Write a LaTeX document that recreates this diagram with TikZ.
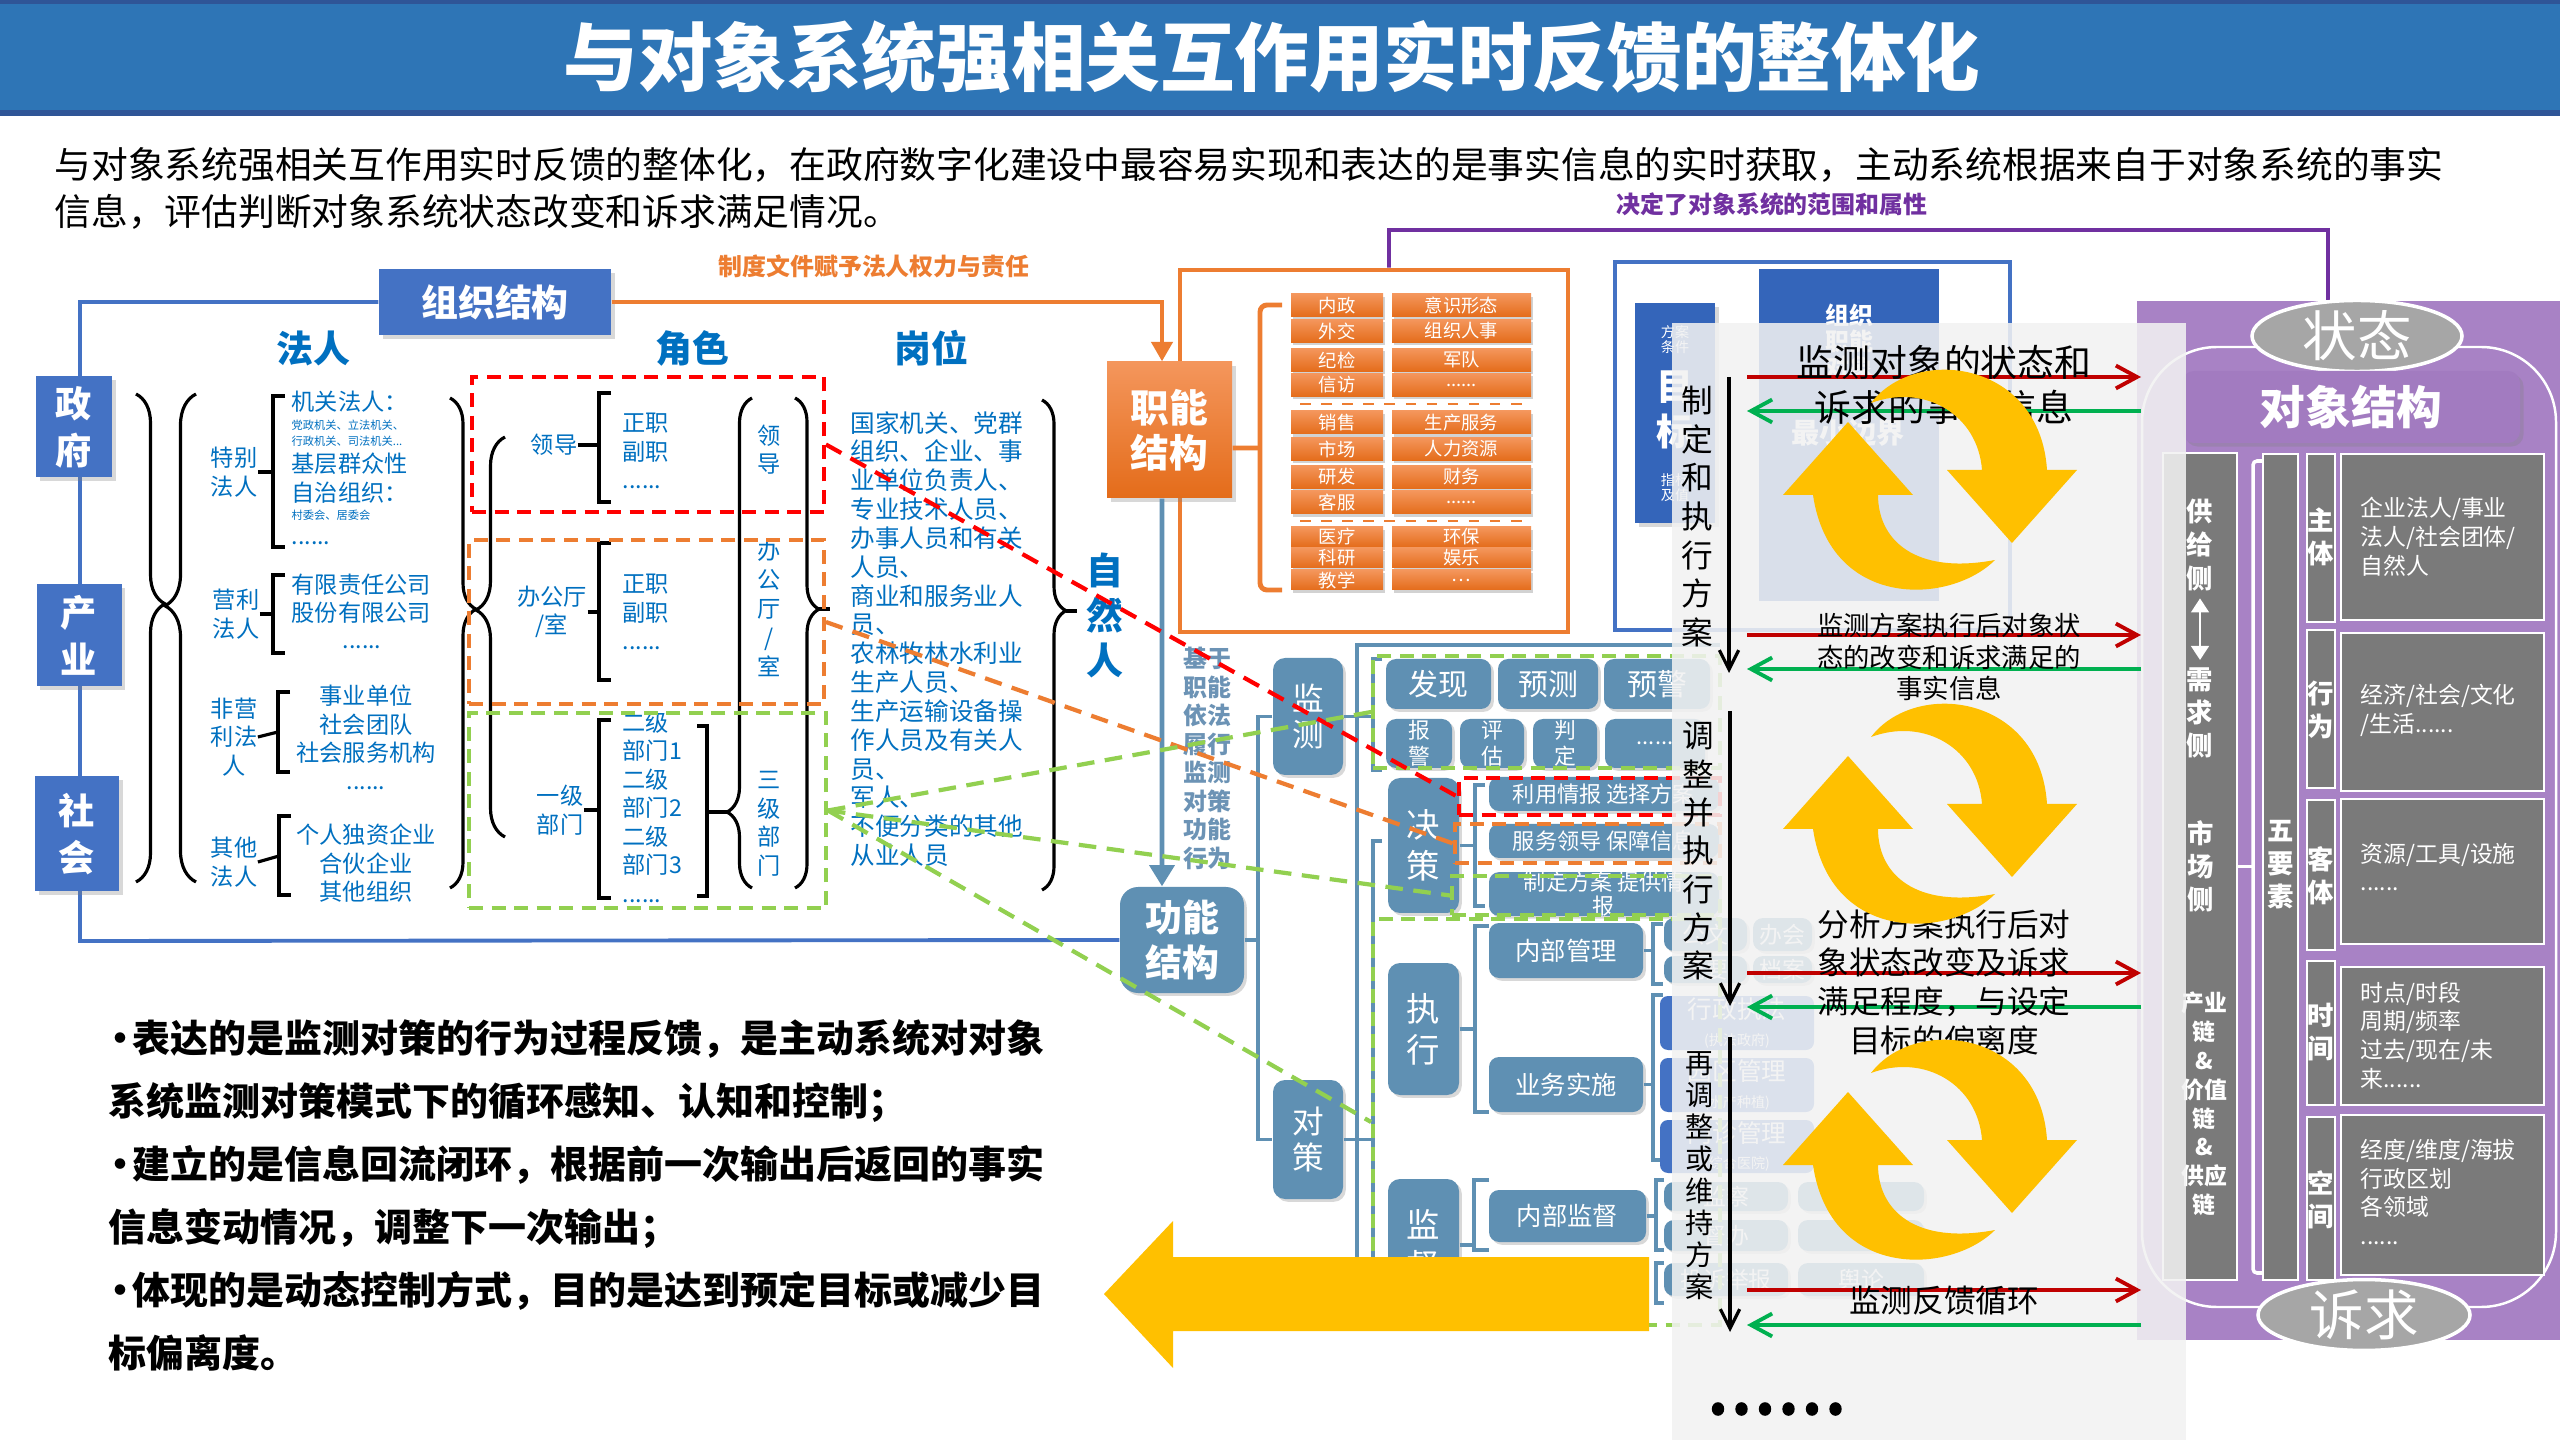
\documentclass[tikz,border=0pt]{standalone}
\usepackage{fontspec}
\setmainfont{Noto Sans CJK SC}
\usetikzlibrary{arrows.meta,decorations.pathreplacing,shadows,shapes.geometric}
\XeTeXlinebreaklocale "zh"

\definecolor{titleBlue}{RGB}{46,117,182}
\definecolor{titleEdge}{RGB}{47,85,151}
\definecolor{orgBlue}{RGB}{68,114,196}
\definecolor{deepBlue}{RGB}{52,101,186}
\definecolor{textBlue}{RGB}{0,112,192}
\definecolor{steelBlue}{RGB}{95,144,179}
\definecolor{steelText}{RGB}{108,147,181}
\definecolor{dutyOrange}{RGB}{237,125,49}
\definecolor{dutyLight}{RGB}{244,150,92}
\definecolor{dutyDark}{RGB}{228,108,26}
\definecolor{dashRed}{RGB}{255,0,0}
\definecolor{dashGreen}{RGB}{146,208,80}
\definecolor{linePurple}{RGB}{112,48,160}
\definecolor{objPurple}{RGB}{168,130,197}
\definecolor{objHead}{RGB}{162,123,192}
\definecolor{objGray}{RGB}{122,122,122}
\definecolor{ovalGray}{RGB}{166,166,166}
\definecolor{fbRed}{RGB}{192,0,0}
\definecolor{fbGreen}{RGB}{0,176,80}
\definecolor{loopYellow}{RGB}{255,192,0}
\definecolor{veilGray}{RGB}{242,242,242}

\newcommand{\fsz}[2]{\fontsize{#1}{#2}\selectfont}
\newcommand{\sixdots}{......}
\newcommand{\bulletMark}{\makebox[0.24cm][c]{•}}

\begin{document}
\begin{tikzpicture}[x=0.01cm, y=-0.01cm,
        sized/.style 2 args={minimum width=#1*0.01cm, minimum height=#2*0.01cm},
        orgBox/.style={rectangle, fill=orgBlue, text=white, inner sep=0pt, align=center, font=\fsz{10.3pt}{13.4pt}\bfseries, drop shadow={opacity=0.3, shadow xshift=1pt, shadow yshift=-1pt}},
        headText/.style={inner sep=0pt, text=textBlue, font=\fsz{10.5pt}{12pt}\bfseries},
        blueText/.style={inner sep=0pt, text=textBlue, align=center, font=\fsz{6.6pt}{8.1pt}},
        blueLeft/.style={blueText, align=left, anchor=west},
        tinyText/.style={inner sep=0pt, text=textBlue, align=left, anchor=west, font=\fsz{3.2pt}{4.6pt}},
        blackLine/.style={line width=0.9pt, black},
        dashFrame/.style={draw, line width=1.1pt, dash pattern=on 4pt off 2.4pt, inner sep=0pt},
        dashLink/.style={line width=1.2pt, dash pattern=on 5pt off 3pt},
        dutyItem/.style={rectangle, inner sep=0pt, top color=dutyLight, bottom color=dutyDark, text=white, font=\fsz{5.2pt}{6pt}, drop shadow={opacity=0.35, shadow xshift=0.6pt, shadow yshift=-0.8pt}},
        steelBox/.style={rectangle, rounded corners=0.1cm, fill=steelBlue, text=white, inner sep=0pt, align=center, drop shadow={opacity=0.3, shadow xshift=0.8pt, shadow yshift=-0.8pt}},
        steelLine/.style={line width=1pt, steelBlue},
        bizBox/.style={rectangle, rounded corners=0.08cm, fill=orgBlue, text=white, inner sep=0pt, align=center, font=\fsz{7pt}{7.5pt}, sized={154}{54}},
        grayBox/.style={rectangle, fill=objGray, draw=white, line width=0.5pt, inner sep=0pt},
        colText/.style={inner sep=0pt, align=center, text=white, font=\fsz{7.5pt}{9.4pt}\bfseries},
        elemText/.style={inner sep=0pt, anchor=west, align=left, text=white, font=\fsz{6.5pt}{8.2pt}},
        oval/.style={ellipse, fill=ovalGray, draw=white, line width=1pt, text=white, inner sep=0pt, font=\fsz{15.5pt}{16pt}},
        fbRedArrow/.style={line width=1.1pt, fbRed, -{Straight Barb[length=6pt,width=6.5pt]}},
        fbGreenArrow/.style={line width=1.1pt, fbGreen, -{Straight Barb[length=6pt,width=6.5pt]}},
        stepArrow/.style={line width=0.9pt, black, -{Straight Barb[length=5.5pt,width=5.5pt]}},
        blackText/.style={inner sep=0pt, align=center, text=black}
    ]
    \useasboundingbox (0,0) rectangle (2560,1440);
    \fill[white] (0,0) rectangle (2560,1440);

    \fill[titleBlue] (0,0) rectangle (2560,114);
    \fill[titleEdge] (0,0) rectangle (2560,4);
    \fill[titleEdge] (0,110) rectangle (2560,116);
    \node[inner sep=0pt, text=white, font=\fsz{21.2pt}{24pt}\bfseries] (title) at (1272,57) {与对象系统强相关互作用实时反馈的整体化};
    \node[inner sep=0pt, anchor=west, align=left, font=\fsz{10.45pt}{13.4pt}] (intro) at (54,188.5) {与对象系统强相关互作用实时反馈的整体化，在政府数字化建设中最容易实现和表达的是事实信息的实时获取，主动系统根据来自于对象系统的事实\\信息，评估判断对象系统状态改变和诉求满足情况。};
    \node[inner sep=0pt, text=linePurple, font=\fsz{6.8pt}{8pt}\bfseries] (scopeNote) at (1772,204) {决定了对象系统的范围和属性};
    \node[inner sep=0pt, text=dutyOrange, font=\fsz{6.8pt}{8pt}\bfseries] (lawNote) at (874,266) {制度文件赋予法人权力与责任};

    % organisation side
    \node[orgBox, sized={232}{66}, font=\fsz{10.5pt}{12pt}\bfseries] (orgStruct) at (495,302) {组织结构};
    \node[steelBox, rounded corners=0.18cm, sized={124}{106}, font=\fsz{10.5pt}{13pt}\bfseries] (funcStruct) at (1182,940) {功能\\结构};
    \draw[orgBlue, line width=1.1pt] (orgStruct.west) -- (80,302) -- (80,941) -- (funcStruct.west);
    \node[orgBox, sized={76}{101}] (govBox) at (74,427) {政\\府};
    \node[orgBox, sized={85}{102}] (indBox) at (79,635) {产\\业};
    \node[orgBox, sized={84}{115}] (socBox) at (77,834) {社\\会};

    \node[headText] (hdLegal) at (313,348) {法人};
    \node[headText] (hdRole) at (692,348) {角色};
    \node[headText] (hdPost) at (931,348) {岗位};

    \draw[blackLine, decorate, decoration={brace, amplitude=0.29cm, aspect=0.43}] (136,394) -- (136,882);
    \draw[blackLine, decorate, decoration={brace, amplitude=0.31cm, aspect=0.566}] (196,882) -- (196,394);

    \node[blueText] (catSpecial) at (234,472) {特别\\法人};
    \node[blueText] (catProfit) at (236,614) {营利\\法人};
    \node[blueText] (catNonProfit) at (234,737) {非营\\利法\\人};
    \node[blueText] (catOther) at (234,862) {其他\\法人};
    \draw[blackLine] (285,396) -- (273,396) -- (273,547) -- (285,547);
    \draw[blackLine] (catSpecial.east) -- (273,472);
    \draw[blackLine] (285,575) -- (273,575) -- (273,653) -- (285,653);
    \draw[blackLine] (catProfit.east) -- (273,614);
    \draw[blackLine] (290,692) -- (278,692) -- (278,772) -- (290,772);
    \draw[blackLine] (catNonProfit.east) -- (278,732);
    \draw[blackLine] (291,816) -- (279,816) -- (279,895) -- (291,895);
    \draw[blackLine] (catOther.east) -- (279,856);

    \node[blueLeft] (legalGov) at (291,402) {机关法人：};
    \node[tinyText] (legalGovList) at (291,433) {党政机关、立法机关、\\行政机关、司法机关...};
    \node[blueLeft] (legalBase) at (291,478) {基层群众性\\自治组织：};
    \node[tinyText] (legalBaseList) at (291,515) {村委会、居委会};
    \node[blueText] (legalMore) at (311,543) {\sixdots};
    \node[blueLeft] (firmList) at (291,598.5) {有限责任公司\\股份有限公司};
    \node[blueText] (firmMore) at (362,647) {\sixdots};
    \node[blueText] (nonprofitList) at (366,724.5) {事业单位\\社会团队\\社会服务机构};
    \node[blueText] (nonprofitMore) at (366,788) {\sixdots};
    \node[blueText] (otherList) at (366,863.5) {个人独资企业\\合伙企业\\其他组织};

    \draw[blackLine, decorate, decoration={brace, amplitude=0.26cm, aspect=0.431}] (450,398) -- (450,888);
    \draw[blackLine, decorate, decoration={brace, amplitude=0.29cm, aspect=0.5675}] (505,837) -- (505,437);

    \node[blueText] (roleLead) at (554,445) {领导};
    \draw[blackLine] (611,393) -- (599,393) -- (599,502) -- (611,502);
    \draw[blackLine] (roleLead.east) -- (599,445);
    \node[blueLeft, font=\fsz{6.6pt}{8pt}] (leadRanks) at (622,451) {正职\\副职\\\sixdots};
    \node[blueText] (roleOffice) at (552,612) {办公厅\\/室};
    \draw[blackLine] (611,543) -- (599,543) -- (599,680) -- (611,680);
    \draw[blackLine] (roleOffice.east) -- (599,612);
    \node[blueLeft, font=\fsz{6.6pt}{8pt}] (officeRanks) at (622,612) {正职\\副职\\\sixdots};
    \node[blueText] (roleDept) at (560,810) {一级\\部门};
    \draw[blackLine] (611,720) -- (599,720) -- (599,898) -- (611,898);
    \draw[blackLine] (roleDept.east) -- (599,810);
    \node[blueLeft] (deptList) at (622,807) {二级\\部门1\\二级\\部门2\\二级\\部门3\\\sixdots};
    \draw[blackLine] (697,726) -- (707,726) -- (707,896) -- (697,896);
    \draw[blackLine] (707,812) -- (727,812);
    \draw[blackLine, decorate, decoration={brace, amplitude=0.25cm, aspect=0.155}] (752,888) -- (752,398);
    \node[blueText] (colLead) at (769,449.5) {领\\导};
    \node[blueText, font=\fsz{6.6pt}{8.2pt}] (colOffice) at (769,608.5) {办\\公\\厅\\/\\室};
    \node[blueText] (colDept) at (769,824) {三\\级\\部\\门};
    \draw[blackLine, decorate, decoration={brace, amplitude=0.24cm, aspect=0.431}] (795,398) -- (795,888);
    \draw[blackLine] (819,609) -- (830,609);

    \node[dashFrame, draw=dashRed, sized={352}{135}] (leadFrame) at (648,444.5) {};
    \node[dashFrame, draw=dutyOrange, sized={355}{164}] (officeFrame) at (646.5,622) {};
    \node[dashFrame, draw=dashGreen, sized={357}{195}] (deptFrame) at (647.5,810.5) {};

    \node[blueLeft, font=\fsz{7pt}{8.2pt}] (postList) at (850,639) {国家机关、党群\\组织、企业、事\\业单位负责人、\\专业技术人员、\\办事人员和有关\\人员、\\商业和服务业人\\员、\\农林牧林水利业\\生产人员、\\生产运输设备操\\作人员及有关人\\员、\\军人、\\不便分类的其他\\从业人员};
    \draw[blackLine, decorate, decoration={brace, amplitude=0.24cm, aspect=0.43}] (1042,400) -- (1042,890);
    \draw[blackLine] (1066,611) -- (1077,611);
    \node[inner sep=0pt, align=center, text=textBlue, font=\fsz{10.5pt}{12.8pt}\bfseries] (naturalPerson) at (1105,615) {自\\然\\人};

    % duty structure
    \node[draw=dutyOrange, line width=1.4pt, sized={388}{362}, inner sep=0pt] (dutyFrame) at (1374,451) {};
    \node[rectangle, inner sep=0pt, top color=dutyLight, bottom color=dutyDark, text=white, align=center, font=\fsz{11pt}{12.8pt}\bfseries, sized={125}{136}, drop shadow={opacity=0.3, shadow xshift=1pt, shadow yshift=-1pt}] (dutyBox) at (1169.5,430) {职能\\结构};
    \draw[dutyOrange, line width=1.1pt, -{Triangle[length=5.5pt,width=6pt]}] (orgStruct.east) -| ([xshift=-0.075cm]dutyBox.north);
    \draw[dutyOrange, line width=1.4pt, rounded corners=0.07cm] (1282,305) -- (1260,305) -- (1260,590) -- (1282,590);
    \draw[dutyOrange, line width=1.4pt] ([yshift=-0.18cm]dutyBox.east) -- (1260,448);
    \foreach \yc/\hh/\la/\lb [count=\k] in {305.5/23/内政/意识形态, 331/23/外交/组织人事, 360/23/纪检/军队, 385/23/信访/\sixdots, 422.5/23/销售/生产服务, 449/23/市场/人力资源, 477/23/研发/财务, 502.5/23/客服/\sixdots, 537/20/医疗/环保, 558/20/科研/娱乐, 580/20/教学/{\ldots}} {
        \node[dutyItem, sized={92}{\hh}] (dutyL\k) at (1337,\yc) {\la};
        \node[dutyItem, sized={139}{\hh}] (dutyR\k) at (1461.5,\yc) {\lb};
    }
    \draw[dutyOrange, dashed, line width=0.4pt] (1300,404) -- (1522,404);
    \draw[dutyOrange, dashed, line width=0.4pt] (1300,521) -- (1522,521);

    % function structure
    \draw[steelBlue, line width=1.3pt, -{Triangle[length=6pt,width=7pt]}] ([xshift=-0.075cm]dutyBox.south) -- ([xshift=-0.2cm]funcStruct.north);
    \node[inner sep=0pt, align=center, text=steelText, font=\fsz{6.8pt}{8.1pt}\bfseries] (basisText) at (1207,758.5) {基于\\职能\\依法\\履行\\监测\\对策\\功能\\行为};
    \node[steelBox, rounded corners=0.12cm, sized={70}{117}, font=\fsz{9pt}{10.5pt}] (monBox) at (1308,716.5) {监\\测};
    \node[steelBox, rounded corners=0.12cm, sized={70}{119}, font=\fsz{9pt}{10.5pt}] (ctrBox) at (1308,1139.5) {对\\策};
    \draw[steelLine] (monBox.west) -- (1258,716.5) -- (1258,1139.5) -- (ctrBox.west);
    \draw[steelLine] (funcStruct.east) -- (1258,940);
    \draw[steelLine] (1720,645) -- (1357,645) -- (1357,1325);
    \draw[steelLine] (monBox.east) -- (1373,716.5);
    \draw[steelLine] (1382,659) -- (1373,659) -- (1373,770) -- (1382,770);
    \draw[steelLine] (ctrBox.east) -- (1373,1139.5);
    \draw[steelLine] (1382,841) -- (1373,841) -- (1373,1310) -- (1382,1310);

    \node[steelBox, sized={105}{50}, font=\fsz{8.5pt}{10pt}] (findBox) at (1438.5,684) {发现};
    \node[steelBox, sized={100}{50}, font=\fsz{8.5pt}{10pt}] (predBox) at (1548,684) {预测};
    \node[steelBox, sized={106}{50}, font=\fsz{8.5pt}{10pt}] (warnBox) at (1657,684) {预警};
    \node[steelBox, sized={66}{49}, font=\fsz{6.2pt}{7.4pt}] (alarmBox) at (1419,743.5) {报\\警};
    \node[steelBox, sized={64}{49}, font=\fsz{6.2pt}{7.4pt}] (evalBox) at (1492,743.5) {评\\估};
    \node[steelBox, sized={64}{49}, font=\fsz{6.2pt}{7.4pt}] (judgeBox) at (1565,743.5) {判\\定};
    \node[steelBox, sized={100}{49}, font=\fsz{6.2pt}{7.4pt}] (moreMonBox) at (1655,743.5) {\sixdots};
    \node[dashFrame, draw=dashGreen, sized={347}{112}] (monFrame) at (1546.5,712) {};

    \node[steelBox, rounded corners=0.12cm, sized={71}{135}, font=\fsz{9.5pt}{11.7pt}] (decBox) at (1423.5,845.5) {决\\策};
    \node[steelBox, sized={230}{34}, font=\fsz{6.3pt}{7.5pt}] (intelBox) at (1604,794) {利用情报 选择方案};
    \node[steelBox, sized={230}{34}, font=\fsz{6.3pt}{7.5pt}] (serveBox) at (1604,841) {服务领导 保障信息};
    \node[steelBox, sized={230}{40}, font=\fsz{6.3pt}{6.6pt}] (planBox) at (1604,894) {制定方案 提供情\\报};
    \draw[steelLine] (1485,785) -- (1475,785) -- (1475,906) -- (1485,906);
    \draw[steelLine] (decBox.east) -- (1475,845.5);
    \node[dashFrame, draw=dashRed, sized={261}{37}] (intelFrame) at (1589.5,796.5) {};
    \node[dashFrame, draw=dutyOrange, sized={265}{39}] (serveFrame) at (1587.5,843.5) {};
    \node[dashFrame, draw=dashGreen, sized={268}{39}] (planFrame) at (1586,895.5) {};

    \node[steelBox, rounded corners=0.12cm, sized={71}{132}, font=\fsz{9.5pt}{11.7pt}] (exeBox) at (1423.5,1029) {执\\行};
    \node[steelBox, sized={154}{55}, font=\fsz{7.2pt}{8pt}] (intMgmt) at (1566,950.5) {内部管理};
    \node[steelBox, sized={154}{55}, font=\fsz{7.2pt}{8pt}] (bizImpl) at (1566,1084.5) {业务实施};
    \draw[steelLine] (1489,926) -- (1475,926) -- (1475,1112) -- (1489,1112);
    \draw[steelLine] (exeBox.east) -- (1475,1029);
    \node[steelBox, rounded corners=0.12cm, sized={71}{132}, font=\fsz{9.5pt}{11.7pt}] (supBox) at (1423.5,1245) {监\\督};
    \node[steelBox, sized={157}{52}, font=\fsz{7.2pt}{8pt}] (intSup) at (1567.5,1216) {内部监督};
    \draw[steelLine] (1489,1180) -- (1474,1180) -- (1474,1250) -- (1489,1250);
    \draw[steelLine] (supBox.east) -- (1474,1245);
    \draw[steelLine] (1663,924) -- (1653,924) -- (1653,984) -- (1663,984);
    \draw[steelLine] (intMgmt.east) -- (1653,950.5);
    \draw[steelLine] (1663,995) -- (1653,995) -- (1653,1160) -- (1663,1160);
    \draw[steelLine] (bizImpl.east) -- (1653,1084.5);
    \draw[steelLine] (1664,1180) -- (1656,1180) -- (1656,1250) -- (1664,1250);
    \draw[steelLine] (intSup.east) -- (1656,1216);
    \draw[steelLine] (1664,1263) -- (1656,1263) -- (1656,1303) -- (1664,1303);

    \node[steelBox, sized={83}{33}, font=\fsz{6.5pt}{7pt}] (docBox) at (1705.5,934.5) {公文};
    \node[steelBox, sized={59}{33}, font=\fsz{6.5pt}{7pt}] (meetBox) at (1782.5,934.5) {办会};
    \node[steelBox, sized={83}{27}, font=\fsz{6.5pt}{7pt}] (minutesBox) at (1705.5,969.5) {纪要};
    \node[steelBox, sized={59}{27}, font=\fsz{6.5pt}{7pt}] (archiveBox) at (1782.5,969.5) {档案};
    \node[bizBox] (lawBox) at (1737,1023) {行政执法\\{\fsz{4pt}{5pt}(执法政府)}};
    \node[bizBox] (parkBox) at (1737,1085) {园区管理\\{\fsz{4pt}{5pt}(水产种植)}};
    \node[bizBox, sized={154}{53}] (clinicBox) at (1737,1146.5) {门诊管理\\{\fsz{4pt}{5pt}(综合医院)}};
    \node[steelBox, sized={124}{29}, font=\fsz{6.5pt}{7pt}] (inspBox) at (1726,1196.5) {监察};
    \node[steelBox, sized={124}{31}, font=\fsz{6.5pt}{7pt}] (urgeBox) at (1726,1235.5) {督办};
    \node[steelBox, sized={124}{33}, font=\fsz{6.5pt}{7pt}] (reportBox) at (1726,1279.5) {投诉举报};
    \node[steelBox, sized={126}{29}] (inspSideBox) at (1861,1196.5) {};
    \node[steelBox, sized={126}{31}] (urgeSideBox) at (1861,1235.5) {};
    \node[steelBox, sized={126}{33}, font=\fsz{6.5pt}{7pt}] (opinionBox) at (1861,1279.5) {舆论};

    \node[dashFrame, draw=dashGreen, sized={347}{406}] (actFrame) at (1546.5,1122) {};

    \draw[dashLink, dashRed] (leadFrame.east) -- (intelFrame.west);
    \draw[dashLink, dutyOrange] (officeFrame.east) -- (serveFrame.west);
    \draw[dashLink, dashGreen] (deptFrame.east) -- (monFrame.west);
    \draw[dashLink, dashGreen] (deptFrame.east) -- (planFrame.west);
    \draw[dashLink, dashGreen] (deptFrame.east) -- (actFrame.west);

    \fill[loopYellow] (1104,1294) -- (1173,1221) -- (1173,1257) -- (1649,1257) -- (1649,1331) -- (1173,1331) -- (1173,1368) -- cycle;

    % goal / organisation boxes behind the veil
    \draw[linePurple, line width=1.1pt] ([xshift=0.15cm]dutyFrame.north) -- (1389,230) -- (2328,230) -- (2328,301);
    \node[draw=orgBlue, line width=1.1pt, sized={395}{368}, inner sep=0pt] (goalFrame) at (1812.5,446) {};
    \node[rectangle, fill=deepBlue, sized={80}{220}, drop shadow={opacity=0.3, shadow xshift=1pt, shadow yshift=-1pt}] (goalBox) at (1675,413) {};
    \node[inner sep=0pt, align=center, text=white, font=\fsz{4pt}{4.3pt}] (goalCond) at (1675,339.5) {方案\\条件};
    \node[inner sep=0pt, align=center, text=white, font=\fsz{10.5pt}{13pt}\bfseries] (goalMain) at (1675,410) {目\\标};
    \node[inner sep=0pt, align=center, text=white, font=\fsz{4pt}{4.3pt}] (goalIndex) at (1675,487.5) {指标\\及值};
    \node[rectangle, fill=deepBlue, sized={180}{332}] (orgFuncBox) at (1848.5,435) {};
    \node[inner sep=0pt, align=center, text=white, font=\fsz{6.8pt}{7.4pt}\bfseries] (orgFuncText) at (1849,341) {组织\\职能\\对象};
    \node[inner sep=0pt, text=white, font=\fsz{8pt}{9pt}\bfseries] (minBound) at (1848,433) {最小边界};

    % object structure
    \fill[objPurple] (2137,301) rectangle (2560,1340);
    \draw[white, line width=0.7pt, rounded corners=0.75cm] (2142,347) rectangle (2556,1307);
    \node[oval, sized={210}{62}] (stateOval) at (2357,336) {状态};
    \node[oval, sized={212}{66}] (demandOval) at (2364,1315) {诉求};
    \node[rectangle, rounded corners=0.12cm, fill=objHead, text=white, inner sep=0pt, font=\fsz{13pt}{14pt}\bfseries, sized={338}{72}, drop shadow={opacity=0.3, shadow xshift=1pt, shadow yshift=-1pt}] (objTitle) at (2351,407) {对象结构};
    \node[grayBox, sized={74}{827}] (sideCol) at (2200,866.5) {};
    \node[colText] (supplySide) at (2200,545) {供\\给\\侧};
    \node[colText] (demandSide) at (2200,713) {需\\求\\侧};
    \draw[white, line width=0.8pt, shorten <=2pt, shorten >=2pt, {Triangle[length=4pt,width=5pt]}-{Triangle[length=4pt,width=5pt]}] (supplySide.south) -- (demandSide.north);
    \node[colText] (marketSide) at (2201,866) {市\\场\\侧};
    \node[colText, font=\fsz{6.5pt}{8.2pt}\bfseries] (chainText) at (2204,1104) {产业\\链\\\&\\价值\\链\\\&\\供应\\链};
    \node[grayBox, sized={35}{826}] (fiveCol) at (2280.5,867) {};
    \node[colText] (fiveText) at (2281,865) {五\\要\\素};
    \draw[white, line width=1pt, rounded corners=0.04cm] (2263,461) -- (2253,461) -- (2253,1273) -- (2263,1273);
    \draw[white, line width=1pt] (sideCol.east) -- (2253,866.5);
    \foreach \ct/\cb/\dt/\db/\cy/\dy/\lab/\desc [count=\k] in {
        454/622/454/620/536.5/537/{主\\体}/{企业法人/事业\\法人/社会团体/\\自然人},
        630/788/633/791/709.5/710.5/{行\\为}/{经济/社会/文化\\/生活\sixdots},
        800/950/799/944/876/867/{客\\体}/{资源/工具/设施\\\sixdots},
        961/1105/967/1105/1032.5/1035.5/{时\\间}/{时点/时段\\周期/频率\\过去/现在/未\\来\sixdots},
        1117/1280/1115/1275/1199.5/1192/{空\\间}/{经度/维度/海拔\\行政区划\\各领域\\\sixdots}} {
        \node[grayBox, minimum width=0.28cm, minimum height=(\cb-\ct)*0.01cm] (elemC\k) at (2321,{(\ct+\cb)/2}) {};
        \node[grayBox, minimum width=2.03cm, minimum height=(\db-\dt)*0.01cm] (elemD\k) at (2442.5,{(\dt+\db)/2}) {};
        \node[colText] (elemName\k) at (2321,\cy) {\lab};
        \node[elemText] (elemDesc\k) at (2360,\dy) {\desc};
    }

    % veil with the feedback loop
    \fill[veilGray, fill opacity=0.87] (1672,323) rectangle (2186,1440);

    \coordinate (planTop) at (1729,377);
    \coordinate (planEnd) at (1729,673);
    \coordinate (adjustTop) at (1730,711);
    \coordinate (adjustEnd) at (1730,1006);
    \coordinate (keepTop) at (1730,1037);
    \coordinate (keepEnd) at (1730,1332);
    \draw[stepArrow] (planTop) -- (planEnd);
    \draw[stepArrow] (adjustTop) -- (adjustEnd);
    \draw[stepArrow] (keepTop) -- (keepEnd);
    \node[blackText, font=\fsz{9pt}{11pt}] (planText) at (1697,516.5) {制\\定\\和\\执\\行\\方\\案};
    \node[blackText, font=\fsz{9pt}{10.9pt}] (adjustText) at (1698,851) {调\\整\\并\\执\\行\\方\\案};
    \node[blackText, font=\fsz{8pt}{9.1pt}] (keepText) at (1700,1175.5) {再\\调\\整\\或\\维\\持\\方\\案};

    \foreach \ry/\gy [count=\k] in {377/411, 635/669, 973/1007, 1290/1325} {
        \coordinate (sendL\k) at (1747,\ry);
        \coordinate (sendR\k) at (2141,\ry);
        \coordinate (backR\k) at (2141,\gy);
        \coordinate (backL\k) at (1747,\gy);
        \draw[fbRedArrow] (sendL\k) -- (sendR\k);
        \draw[fbGreenArrow] (backR\k) -- (backL\k);
    }
    \node[blackText, font=\fsz{10.5pt}{12.8pt}] (stateInfo) at (1944,384.5) {监测对象的状态和\\诉求的事实信息};
    \node[blackText, font=\fsz{7.5pt}{9pt}] (changeInfo) at (1949,657) {监测方案执行后对象状\\态的改变和诉求满足的\\事实信息};
    \node[blackText, font=\fsz{9pt}{11pt}] (deviation) at (1944,982) {分析方案执行后对\\象状态改变及诉求\\满足程度，与设定\\目标的偏离度};
    \node[blackText, font=\fsz{9pt}{10pt}] (loopLabel) at (1944,1301) {监测反馈循环};

    \foreach \dy in {0,334,670} {
        \begin{scope}[shift={(0,\dy)}]
            \fill[loopYellow] (1871,403) .. controls (1915,345) and (2040,360) .. (2047,470) -- (2077,470) -- (2012,543) -- (1947,470) -- (1982,470) .. controls (1978,415) and (1925,383) .. (1871,403) -- cycle;
            \fill[loopYellow] (1848,422) -- (1913,495) -- (1878,495) .. controls (1878,540) and (1915,575) .. (1995,560) .. controls (1950,605) and (1830,610) .. (1813,495) -- (1783,495) -- cycle;
        \end{scope}
    }
    \foreach \i in {0,...,5} {
        \fill[black] (1718+\i*23.5,1409) ellipse [x radius=0.062cm, y radius=0.068cm];
    }

    \node[inner sep=0pt, anchor=west, align=left, font=\fsz{10.8pt}{17.9pt}\bfseries] (summary) at (108,1195) {\bulletMark 表达的是监测对策的行为过程反馈，是主动系统对对象\\系统监测对策模式下的循环感知、认知和控制；\\\bulletMark 建立的是信息回流闭环，根据前一次输出后返回的事实\\信息变动情况，调整下一次输出；\\\bulletMark 体现的是动态控制方式，目的是达到预定目标或减少目\\标偏离度。};
\end{tikzpicture}
\end{document}
